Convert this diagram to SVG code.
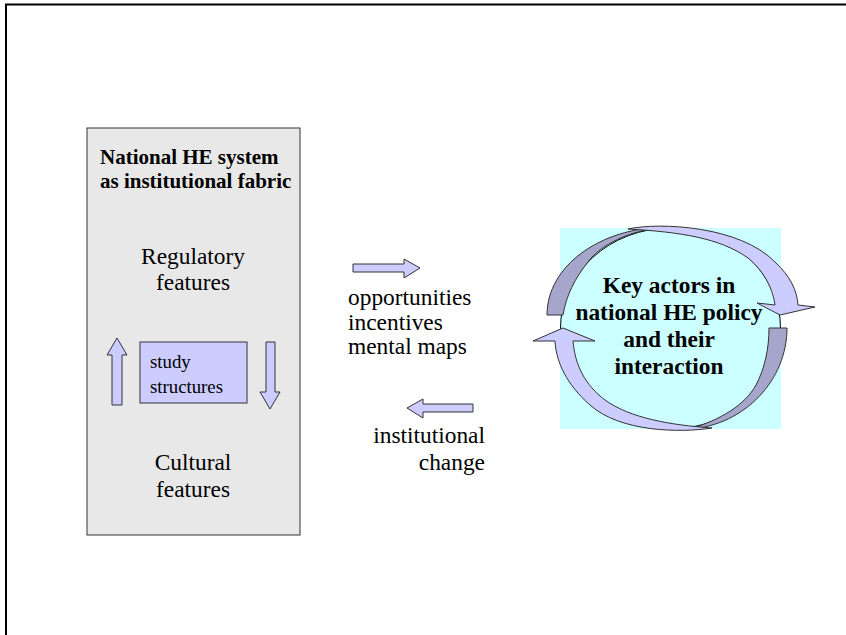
<svg xmlns="http://www.w3.org/2000/svg" width="846" height="635" viewBox="0 0 846 635">
  <style>
    .serif { font-family: "Liberation Serif", "Times New Roman", serif; fill: #000; }
    .reg { font-size: 23.4px; }
    .bold { font-weight: bold; }
    .blue { fill: #ccccff; stroke: #333; stroke-width: 1; stroke-linejoin: miter; }
    .dark { fill: #a6a6cc; stroke: #333; stroke-width: 1; }
  </style>

  <rect x="0" y="0" width="846" height="635" fill="#fff"/>
  <!-- slide frame -->
  <path d="M6,640 V4.5 H850" fill="none" stroke="#000" stroke-width="2"/>

  <!-- national system box -->
  <g id="system">
    <rect x="87" y="128" width="213" height="407" fill="#e8e8e8" stroke="#333" stroke-width="1"/>
    <text class="serif bold" font-size="21" x="100" y="164">National HE system</text>
    <text class="serif bold" font-size="21" x="100" y="188">as institutional fabric</text>
    <text class="serif reg" text-anchor="middle" x="193" y="264">Regulatory</text>
    <text class="serif reg" text-anchor="middle" x="193" y="290">features</text>
    <text class="serif reg" text-anchor="middle" x="193" y="470">Cultural</text>
    <text class="serif reg" text-anchor="middle" x="193" y="497">features</text>
  </g>

  <g id="study">
    <rect class="blue" x="140" y="342" width="107" height="61"/>
    <text class="serif" font-size="18.8" x="150" y="368">study</text>
    <text class="serif" font-size="18.8" x="150" y="393">structures</text>
  </g>

  <!-- key actors -->
  <g id="actors">
    <rect x="560" y="228" width="221" height="201" fill="#ccffff"/>
    <ellipse cx="670.5" cy="328.5" rx="110" ry="100.5" fill="none" stroke="#000" stroke-width="1"/>
    <!-- upper curved arrow -->
    <path class="dark" d="M547,315 C547,266 600,228 665,227 C630,230 600,245 588,262 C575,278 566,296 563,315 Z"/>
    <path class="blue" d="M628,229 C660,222 740,226 775,262 C790,276 797,290 798,305 L815,307 L780,315 L757,303 L775,305 C773,290 765,272 748,258 C720,238 680,232 628,229 Z"/>
    <!-- lower curved arrow -->
    <path class="dark" d="M787,328 C787,380 745,425 690,429 C720,420 745,405 756,385 C765,368 769,348 769,328 Z"/>
    <path class="blue" d="M712,428 C680,433 620,432 590,405 C567,385 556,362 555,341 L533,341 L563,328 L595,341 L573,341 C575,365 585,385 605,400 C630,418 670,425 712,428 Z"/>
    <text class="serif reg bold" text-anchor="middle" x="669" y="293">Key actors in</text>
    <text class="serif reg bold" text-anchor="middle" x="669" y="320">national HE policy</text>
    <text class="serif reg bold" text-anchor="middle" x="669" y="347">and their</text>
    <text class="serif reg bold" text-anchor="middle" x="669" y="374">interaction</text>
  </g>

  <!-- connectors -->
  <g id="connectors">
    <path class="blue" d="M117,338 L127,355 L122,355 L122,405 L112,405 L112,355 L107,355 Z"/>
    <path class="blue" d="M270,409 L280,392 L275,392 L275,342 L266,342 L266,392 L260,392 Z"/>
    <path class="blue" d="M420,268 L404,259 L404,264 L353,264 L353,272 L404,272 L404,278 Z"/>
    <path class="blue" d="M407,408 L423,399 L423,404 L473,404 L473,412 L423,412 L423,418 Z"/>
  </g>

  <g id="labels">
    <text class="serif reg" x="348" y="305">opportunities</text>
    <text class="serif reg" x="348" y="330">incentives</text>
    <text class="serif reg" x="348" y="354">mental maps</text>
    <text class="serif reg" text-anchor="end" x="485" y="443">institutional</text>
    <text class="serif reg" text-anchor="end" x="485" y="470">change</text>
  </g>
</svg>
